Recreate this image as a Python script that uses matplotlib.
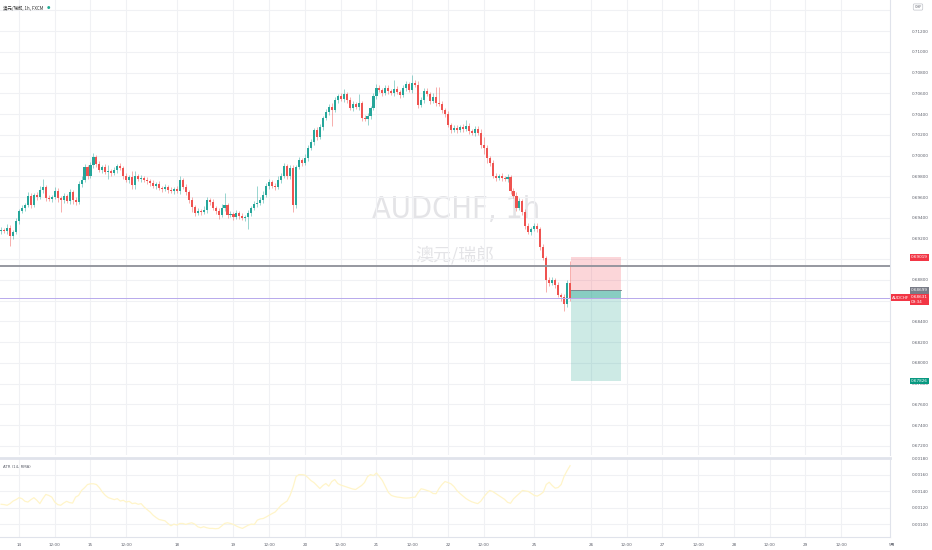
import matplotlib
matplotlib.use("Agg")
import matplotlib.pyplot as plt
import matplotlib.transforms as mtransforms
from matplotlib.patches import Rectangle
from matplotlib import font_manager
import os
import numpy as np

plt.rcParams['font.family'] = ['DejaVu Sans', 'Noto Sans CJK SC']

# hourly closes, bar -6 (13th 18:00) .. bar 185 (25th, last bar)
closes = [
    0.69282, 0.69272, 0.69301, 0.69224, 0.69263, 0.69369, 0.69465, 0.69494, 0.69523, 0.69610,
    0.69523, 0.69619, 0.69600, 0.69668, 0.69697, 0.69591, 0.69581, 0.69600, 0.69658, 0.69591,
    0.69571, 0.69610, 0.69562, 0.69648, 0.69571, 0.69552, 0.69725, 0.69764, 0.69889, 0.69803,
    0.69909, 0.69986, 0.69918, 0.69860, 0.69889, 0.69841, 0.69851, 0.69831, 0.69860, 0.69899,
    0.69880, 0.69803, 0.69764, 0.69793, 0.69716, 0.69803, 0.69774, 0.69783, 0.69764, 0.69754,
    0.69735, 0.69706, 0.69725, 0.69687, 0.69677, 0.69697, 0.69668, 0.69658, 0.69677, 0.69658,
    0.69764, 0.69697, 0.69648, 0.69571, 0.69504, 0.69446, 0.69465, 0.69456, 0.69475, 0.69571,
    0.69552, 0.69494, 0.69465, 0.69427, 0.69494, 0.69523, 0.69427, 0.69436, 0.69408, 0.69446,
    0.69417, 0.69398, 0.69408, 0.69446, 0.69494, 0.69533, 0.69543, 0.69571, 0.69619, 0.69706,
    0.69745, 0.69706, 0.69697, 0.69764, 0.69803, 0.69899, 0.69803, 0.69880, 0.69523, 0.69889,
    0.69957, 0.69928, 0.69976, 0.70072, 0.70130, 0.70246, 0.70178, 0.70275, 0.70362, 0.70420,
    0.70468, 0.70439, 0.70535, 0.70574, 0.70545, 0.70593, 0.70535, 0.70458, 0.70497, 0.70468,
    0.70506, 0.70362, 0.70352, 0.70381, 0.70458, 0.70574, 0.70651, 0.70632, 0.70603, 0.70651,
    0.70622, 0.70603, 0.70641, 0.70612, 0.70584, 0.70651, 0.70689, 0.70632, 0.70699, 0.70680,
    0.70487, 0.70535, 0.70622, 0.70593, 0.70526, 0.70565, 0.70506, 0.70497, 0.70439, 0.70400,
    0.70294, 0.70246, 0.70265, 0.70246, 0.70275, 0.70256, 0.70285, 0.70236, 0.70217, 0.70256,
    0.70217, 0.70101, 0.70072, 0.69976, 0.69928, 0.69803, 0.69783, 0.69803, 0.69783, 0.69774,
    0.69793, 0.69658, 0.69610, 0.69494, 0.69562, 0.69456, 0.69320, 0.69263, 0.69292, 0.69320,
    0.69292, 0.69118, 0.69012, 0.68800, 0.68771, 0.68800, 0.68752, 0.68656, 0.68636, 0.68569,
    0.68771, 0.68631,
]
first_open = 0.69272

# wick lengths in pips above / below the body
wick_up = [
    3, 2, 4, 3, 2, 3, 2, 3, 2, 4,
    3, 2, 3, 4, 8, 2, 3, 2, 4, 3,
    2, 3, 2, 3, 2, 3, 3, 4, 3, 2,
    3, 4, 2, 3, 2, 3, 6, 2, 3, 2,
    3, 2, 3, 2, 6, 5, 2, 3, 2, 3,
    2, 3, 2, 3, 2, 3, 2, 3, 2, 3,
    4, 2, 3, 2, 3, 2, 3, 2, 4, 3,
    2, 3, 2, 3, 4, 12, 2, 3, 2, 3,
    2, 3, 2, 3, 2, 3, 16, 3, 4, 3,
    3, 2, 3, 4, 3, 3, 2, 3, 3, 2,
    3, 2, 4, 3, 3, 2, 3, 3, 2, 3,
    3, 4, 3, 2, 3, 5, 2, 3, 3, 2,
    9, 2, 3, 3, 2, 3, 4, 3, 2, 3,
    3, 2, 9, 3, 2, 3, 3, 2, 8, 3,
    4, 3, 3, 3, 2, 4, 10, 15, 3, 2,
    3, 2, 3, 3, 2, 3, 6, 3, 2, 3,
    3, 4, 8, 3, 2, 3, 3, 2, 3, 2,
    3, 2, 3, 4, 3, 2, 3, 3, 2, 3,
    3, 2, 3, 2, 3, 3, 2, 3, 2, 3,
    3, 21,
]
wick_down = [
    3, 2, 3, 10, 3, 2, 3, 2, 3, 2,
    3, 2, 3, 2, 3, 3, 2, 3, 2, 4,
    12, 3, 2, 3, 4, 3, 2, 3, 2, 3,
    2, 3, 3, 2, 3, 2, 7, 3, 2, 3,
    2, 3, 2, 3, 4, 4, 2, 3, 2, 3,
    3, 2, 3, 2, 3, 2, 3, 2, 3, 2,
    3, 2, 3, 3, 5, 3, 2, 3, 2, 3,
    3, 2, 3, 4, 2, 3, 3, 2, 3, 2,
    3, 2, 3, 12, 3, 2, 3, 2, 3, 2,
    3, 2, 3, 2, 3, 2, 3, 3, 7, 3,
    2, 3, 2, 3, 2, 3, 3, 2, 3, 2,
    3, 15, 2, 3, 2, 3, 3, 2, 3, 2,
    3, 3, 2, 6, 3, 2, 3, 2, 3, 2,
    3, 2, 3, 2, 3, 2, 3, 2, 3, 2,
    3, 2, 3, 2, 3, 2, 3, 2, 3, 3,
    2, 3, 2, 3, 2, 3, 2, 3, 2, 3,
    2, 3, 6, 5, 3, 2, 3, 2, 3, 2,
    3, 3, 2, 3, 2, 3, 3, 2, 3, 2,
    3, 3, 2, 12, 3, 2, 3, 2, 4, 7,
    3, 3,
]

# ATR(14, RMA) in units of 1e-5
atr_vals = [
    124.0, 123.6, 122.8, 124.8, 127.9, 129.6, 132.0, 130.8, 127.6, 126.7,
    129.6, 132.0, 128.8, 124.8, 130.8, 135.9, 134.7, 132.7, 126.7, 123.6,
    122.8, 125.5, 127.6, 126.0, 125.5, 132.7, 134.7, 140.7, 144.0, 147.9,
    148.8, 148.8, 147.9, 144.0, 138.7, 134.7, 132.0, 130.8, 129.6, 130.8,
    127.9, 128.8, 126.7, 127.6, 124.8, 125.5, 124.0, 124.8, 120.7, 117.6,
    114.7, 110.8, 108.0, 105.6, 104.8, 104.0, 100.8, 98.0, 100.0, 98.8,
    100.8, 100.8, 99.6, 100.8, 101.6, 100.0, 96.8, 95.6, 96.8, 95.6,
    94.8, 94.8, 94.4, 94.8, 97.6, 100.8, 101.6, 100.8, 99.6, 97.6,
    96.0, 94.8, 96.8, 98.8, 100.0, 99.6, 104.8, 106.3, 106.8, 108.7,
    110.8, 112.8, 114.7, 118.8, 122.8, 125.5, 127.9, 134.7, 144.7, 157.5,
    159.9, 159.9, 159.3, 156.3, 152.7, 150.3, 146.7, 143.1, 146.7, 149.1,
    145.9, 151.5, 153.9, 149.1, 147.3, 146.1, 144.9, 143.7, 142.5, 141.9,
    144.3, 146.7, 150.3, 157.5, 159.9, 158.7, 161.9, 157.5, 152.7, 145.5,
    138.3, 134.7, 133.5, 132.7, 132.3, 131.7, 131.5, 131.7, 132.3, 132.7,
    138.3, 142.8, 141.9, 140.7, 139.5, 137.1, 136.8, 143.1, 147.9, 151.5,
    150.3, 148.8, 145.5, 140.7, 137.1, 134.1, 131.1, 128.8, 127.0, 125.8,
    124.8, 127.6, 132.7, 137.1, 140.7, 139.5, 137.1, 134.7, 132.3, 130.0,
    126.4, 125.2, 130.5, 133.9, 137.1, 140.7, 140.1, 139.5, 137.1, 134.7,
    133.9, 135.9, 138.7, 147.9, 150.7, 146.7, 143.5, 144.3, 147.9, 157.9,
    164.7, 170.7,
]

first_bar = -6
tick_pos = [0, 12, 24, 36, 53, 72, 84, 96, 108, 120, 132, 144, 156, 173,
            192, 204, 216, 228, 240, 252, 264, 276]
tick_lab = ["14", "12:00", "15", "12:00", "18", "19", "12:00", "20", "12:00", "21",
            "12:00", "22", "12:00", "25", "26", "12:00", "27", "12:00", "28", "12:00",
            "29", "12:00"]
month_pos, month_lab = 293, "5月"

price_ticks = [0.672, 0.674, 0.676, 0.678, 0.680, 0.682, 0.684, 0.686, 0.688, 0.690,
               0.692, 0.694, 0.696, 0.698, 0.700, 0.702, 0.704, 0.706, 0.708, 0.710,
               0.712, 0.714]
atr_ticks = [0.0010, 0.0012, 0.0014, 0.0016, 0.0018]

last_price = 0.68631
entry, stop, target = 0.68699, 0.69019, 0.67826
hline_price = 0.68935
box_left, box_right = 185.3, 202.1

UP, DOWN = "#26a69a", "#ef5350"
GRID = "#f0f1f4"
TXT = "#5d606b"

closes = np.array(closes)
opens = np.concatenate([[first_open], closes[:-1]])
highs = np.maximum(opens, closes) + np.array(wick_up) * 1e-4
lows = np.minimum(opens, closes) - np.array(wick_down) * 1e-4
x = np.arange(first_bar, first_bar + len(closes))
atr = np.array(atr_vals) * 1e-5

# a narrow regular face for the big watermark, if one is installed
narrow = None
prefs = ["LiberationSansNarrow-Regular", "DejaVuSansCondensed."]
files = [f.fname for f in font_manager.fontManager.ttflist]
for p in prefs:
    hits = [fn for fn in files if p in os.path.basename(fn)]
    if hits:
        narrow = hits[0]
        break

fig = plt.figure(figsize=(9.32, 5.5), dpi=100)
W, H = 932, 550
ax = fig.add_axes([0, 1 - 455 / H, 890 / W, 455 / H])
ax2 = fig.add_axes([0, 1 - 537 / H, 890 / W, 79 / H], sharex=ax)

xmin, xmax = -6.38, 292.4
ax.set_xlim(xmin, xmax)
ax.set_ylim(0.67113, 0.71499)
ax2.set_ylim(0.000844, 0.001791)

for a in (ax, ax2):
    for s in a.spines.values():
        s.set_visible(False)
    a.set_xticks(tick_pos)
    a.grid(True, color=GRID, linewidth=0.8)
    a.set_axisbelow(True)
    a.tick_params(length=0)
ax.spines["right"].set_visible(True)
ax.spines["right"].set_color("#e0e3eb")
ax2.spines["right"].set_visible(True)
ax2.spines["right"].set_color("#e0e3eb")
ax2.spines["bottom"].set_visible(True)
ax2.spines["bottom"].set_color("#e0e3eb")
ax2.spines["top"].set_visible(True)
ax2.spines["top"].set_color("#e0e3eb")
ax2.spines["top"].set_linewidth(2)

# price axis
ax.set_yticks(price_ticks)
ax.yaxis.tick_right()
labels = ["" if p in (0.690, 0.686, 0.714) else f"{p:.5f}" for p in price_ticks]
ax.set_yticklabels(labels)
ax.tick_params(axis="y", labelsize=3, labelcolor=TXT, pad=16)
ax.tick_params(axis="x", labelbottom=False)

ax2.set_yticks(atr_ticks)
ax2.yaxis.tick_right()
ax2.set_yticklabels([f"{v:.5f}" for v in atr_ticks])
ax2.tick_params(axis="y", labelsize=3, labelcolor=TXT, pad=16)
ax2.set_xticklabels(tick_lab)
ax2.tick_params(axis="x", labelsize=3, labelcolor=TXT, pad=4)
ax2.text(month_pos, -0.08, month_lab, transform=mtransforms.blended_transform_factory(ax2.transData, ax2.transAxes),
         fontsize=3, color=TXT, ha="center", va="top", clip_on=False,
         family=["Noto Sans CJK SC", "DejaVu Sans"])

# watermark (centre of the pane)
if narrow:
    wm_prop = font_manager.FontProperties(fname=narrow, size=26)
else:
    wm_prop = font_manager.FontProperties(family="DejaVu Sans", size=22)
wm = ax.text(146.9, 0.69480, "AUDCHF, 1h", color="#e4e4e7", ha="center", va="center",
             zorder=0, fontproperties=wm_prop)
fig.canvas.draw()
wm_w = wm.get_window_extent().width
wm.set_fontsize(wm_prop.get_size() * 168 / wm_w)
ax.text(146.4, 0.69040, "澳元/瑞郎", fontsize=13, color="#e4e4e7", ha="center", va="center",
        family=["Noto Sans CJK SC", "DejaVu Sans"], zorder=0)

# candles
up = closes >= opens
colors = np.where(up, UP, DOWN)
ax.vlines(x, lows, highs, colors=colors, linewidth=0.6, alpha=0.55, zorder=2)
ax.bar(x, np.abs(closes - opens) + 0.00002, bottom=np.minimum(opens, closes) - 0.00001,
       width=0.7, color=colors, linewidth=0, zorder=3)

# horizontal lines
ax.axhline(hline_price, color="#8e9099", linewidth=1.3, zorder=4)
ax.axhline(last_price, color="#b7a9ec", linewidth=0.7, zorder=4)

# short position box
ax.add_patch(Rectangle((box_left, entry), box_right - box_left, stop - entry,
                       facecolor="#f23645", alpha=0.2, linewidth=0, zorder=1))
ax.add_patch(Rectangle((box_left, target), box_right - box_left, entry - target,
                       facecolor="#089981", alpha=0.2, linewidth=0, zorder=1))
ax.add_patch(Rectangle((box_left, last_price), box_right - box_left, entry - last_price,
                       facecolor="#089981", alpha=0.35, linewidth=0, zorder=1))
ax.plot([box_left, box_right], [entry, entry], color="#787b86", linewidth=0.6, zorder=2)

# price scale labels
bt = mtransforms.blended_transform_factory(fig.transFigure, ax.transData)
def tag(y, txt, fc, xf=911 / W):
    ax.text(xf, y, txt, transform=bt, fontsize=3, color="white", ha="left", va="center",
            bbox=dict(boxstyle="square,pad=0.35", fc=fc, ec="none"), clip_on=False, zorder=10)

tag(stop, "0.69019", "#f23645")
tag(entry, "0.68699", "#787b86")
tag(last_price - 0.00020, "0.68631\n09:34", "#f23645")
tag(target, "0.67826", "#089981")
ax.text(892 / W, last_price, "AUDCHF", transform=bt, fontsize=3, color="white", ha="left",
        va="center", bbox=dict(boxstyle="square,pad=0.35", fc="#f23645", ec="none"),
        clip_on=False, zorder=10)
fig.text(918 / W, 1 - 7 / H, "CHF", fontsize=2.6, color=TXT, ha="center", va="center",
         bbox=dict(boxstyle="round,pad=0.3", fc="white", ec="#b2b5be", lw=0.4))

# ATR
ax2.plot(x, atr, color="#fff5c9", linewidth=0.9)
ax2.text(3 / 890, 0.88, "ATR (14, RMA)", transform=ax2.transAxes, fontsize=2.8, color=TXT,
         ha="left", va="center")

# title
fig.text(3 / W, 1 - 8 / H, "澳元/瑞郎, 1h, FXCM", fontsize=3.2, color="#333333",
         ha="left", va="center", family=["Noto Sans CJK SC", "DejaVu Sans"])
fig.text(47 / W, 1 - 8 / H, "●", fontsize=2.8, color="#22ab94", ha="left", va="center")

fig.savefig("out.png", dpi=100, facecolor="white")
